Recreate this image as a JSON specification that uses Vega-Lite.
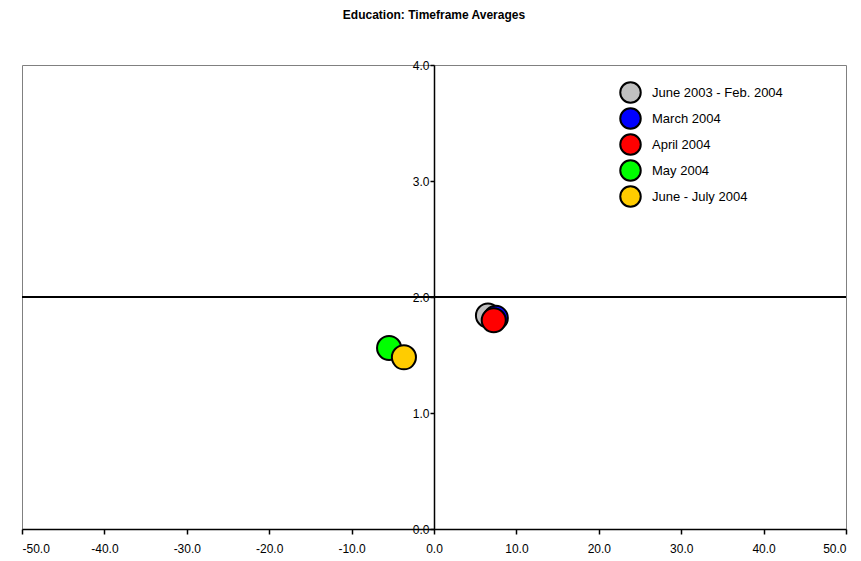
{
  "$schema": "https://vega.github.io/schema/vega-lite/v6.json",
  "autosize": "none",
  "width": 824,
  "height": 464,
  "padding": {"left": 22, "top": 65, "right": 15, "bottom": 32},
  "background": "white",
  "title": {
    "text": "Education: Timeframe Averages",
    "font": "Liberation Sans",
    "fontSize": 12,
    "fontWeight": "bold",
    "color": "#000000",
    "anchor": "middle",
    "offset": 37
  },
  "config": {
    "view": {"stroke": "#808080", "strokeWidth": 1},
    "axis": {
      "labelFont": "Liberation Sans",
      "labelFontSize": 12,
      "labelColor": "#000000",
      "domainColor": "#000000",
      "domainWidth": 1.5,
      "tickColor": "#000000",
      "tickWidth": 1.5,
      "tickSize": 5,
      "grid": false,
      "title": null
    }
  },
  "data": {
    "values": [
      {"period": "June 2003 - Feb. 2004", "x": 6.55, "y": 1.84},
      {"period": "March 2004", "x": 7.5, "y": 1.82},
      {"period": "April 2004", "x": 7.25, "y": 1.8},
      {"period": "May 2004", "x": -5.45, "y": 1.56},
      {"period": "June - July 2004", "x": -3.65, "y": 1.48}
    ]
  },
  "layer": [
    {
      "mark": {"type": "rule", "color": "#000000", "strokeWidth": 1.5},
      "encoding": {"y": {"datum": 2, "type": "quantitative"}}
    },
    {
      "mark": {"type": "point", "filled": true, "opacity": 1, "stroke": "#000000", "strokeWidth": 2},
      "encoding": {
        "x": {
          "field": "x",
          "type": "quantitative",
          "scale": {"domain": [-50, 50], "nice": false},
          "axis": {"values": [-50, -40, -30, -20, -10, 0, 10, 20, 30, 40, 50], "labelExpr": "replace(format(datum.value, '.1f'), '\u2212', '-')", "labelPadding": 9}
        },
        "y": {
          "field": "y",
          "type": "quantitative",
          "scale": {"domain": [0, 4], "nice": false},
          "axis": {"values": [0, 1, 2, 3, 4], "format": ".1f", "offset": -412, "labelPadding": 1, "tickSize": 4}
        },
        "color": {
          "field": "period",
          "type": "nominal",
          "sort": null,
          "scale": {
            "domain": ["June 2003 - Feb. 2004", "March 2004", "April 2004", "May 2004", "June - July 2004"],
            "range": ["#C0C0C0", "#0000FF", "#FF0000", "#00FF00", "#FFCC00"]
          },
          "legend": {
            "title": null,
            "orient": "none",
            "legendX": 597,
            "legendY": 16,
            "symbolType": "circle",
            "symbolSize": 420,
            "symbolStrokeColor": "#000000",
            "symbolStrokeWidth": 2,
            "symbolOpacity": 1,
            "labelFont": "Liberation Sans",
            "labelFontSize": 13,
            "labelColor": "#000000",
            "labelOffset": 10,
            "rowPadding": -4
          }
        },
        "size": {"value": 580},
        "shape": {"value": "circle"}
      }
    }
  ]
}
